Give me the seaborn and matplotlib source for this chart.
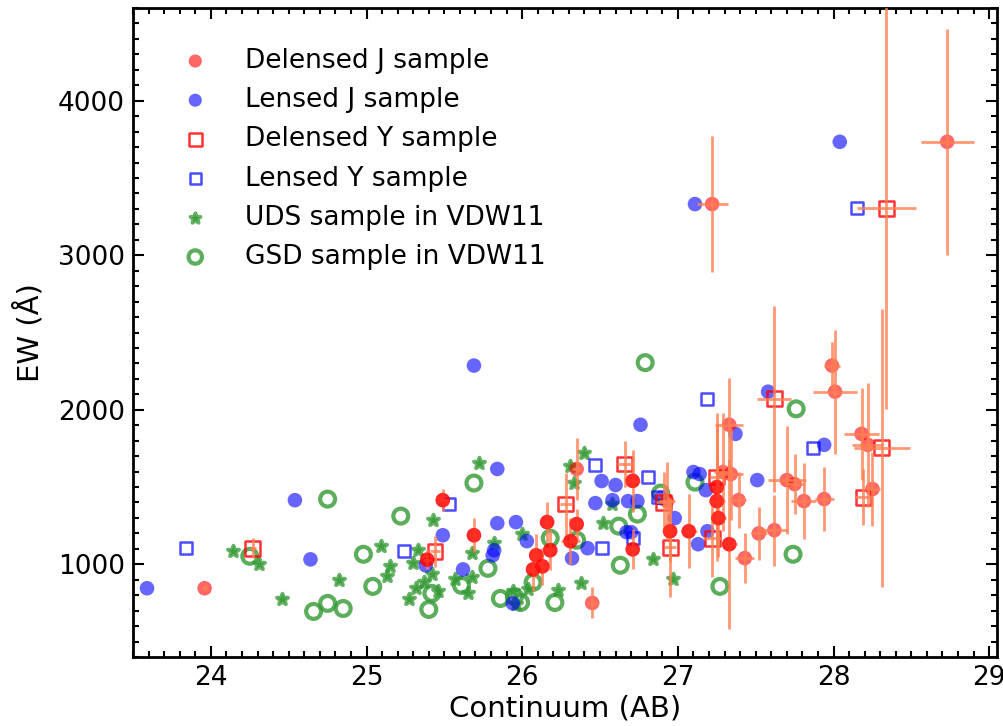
import matplotlib
matplotlib.use('Agg')
import numpy as np
import pandas as pd
import seaborn as sns
import matplotlib.pyplot as plt
from matplotlib.markers import MarkerStyle
from matplotlib.ticker import MultipleLocator

# delensed J sample (continuum mag, EW, errors)
dj_x = [23.96, 25.39, 25.49, 25.69, 26.07, 26.09, 26.13, 26.16, 26.18, 26.31,
        26.35, 26.35, 26.45, 26.71, 26.71, 26.93, 26.95, 27.07, 27.22, 27.25,
        27.25, 27.26, 27.29, 27.33, 27.33, 27.34, 27.39, 27.43, 27.52, 27.62,
        27.70, 27.75, 27.81, 27.94, 27.99, 28.01, 28.18, 28.22, 28.25, 28.73]
dj_y = [845, 1030, 1415, 1188, 967, 1058, 987, 1273, 1091, 1150,
        1260, 1617, 750, 1540, 1097, 1410, 1214, 1214, 3331, 1500,
        1409, 1299, 1597, 1903, 1130, 1584, 1415, 1040, 1200, 1221,
        1545, 1519, 1409, 1422, 2286, 2117, 1844, 1773, 1487, 3734]
dj_xerr = [0.02, 0.03, 0.03, 0.03, 0.04, 0.04, 0.03, 0.03, 0.03, 0.06,
           0.03, 0.03, 0.04, 0.05, 0.04, 0.05, 0.04, 0.05, 0.10, 0.04,
           0.05, 0.05, 0.06, 0.09, 0.05, 0.08, 0.05, 0.06, 0.05, 0.09,
           0.12, 0.06, 0.08, 0.06, 0.05, 0.14, 0.11, 0.10, 0.05, 0.17]
dj_yerr = [20, 60, 70, 110, 140, 140, 120, 130, 130, 150,
           100, 200, 100, 200, 130, 250, 200, 240, 440, 480,
           300, 250, 380, 300, 550, 300, 180, 160, 170, 230,
           350, 195, 245, 205, 150, 400, 300, 400, 240, 730]
# entries that appear twice in the catalogue (multiple images)
dj_repeat = [1, 2, 3, 4, 5, 6, 7, 8, 9, 10, 13, 14, 16, 17, 19, 20, 21, 24]

# lensed J sample
lj_x = [23.59, 24.54, 24.64, 25.38, 25.49, 25.62, 25.69, 25.81, 25.82, 25.84,
        25.84, 25.94, 25.96, 26.03, 26.32, 26.42, 26.47, 26.51, 26.58, 26.60,
        26.67, 26.70, 26.68, 26.74, 26.76, 26.89, 26.98, 27.10, 27.11, 27.14,
        27.13, 27.18, 27.19, 27.37, 27.51, 27.58, 27.94, 28.04]
lj_y = [845, 1415, 1032, 993, 1188, 967, 2286, 1058, 1091, 1617,
        1266, 747, 1273, 1150, 1039, 1104, 1396, 1539, 1415, 1513,
        1208, 1208, 1409, 1409, 1903, 1428, 1299, 1597, 3331, 1584,
        1130, 1480, 1214, 1844, 1545, 2117, 1773, 3734]

# delensed Y sample
dy_x = [24.27, 25.44, 26.28, 26.66, 26.91, 26.95, 27.22, 27.25, 27.62, 28.19, 28.31, 28.34]
dy_y = [1104, 1084, 1390, 1649, 1400, 1110, 1169, 1565, 2071, 1435, 1753, 3305]
dy_xerr = [0.02, 0.03, 0.04, 0.05, 0.05, 0.04, 0.06, 0.05, 0.11, 0.05, 0.18, 0.19]
dy_yerr = [65, 100, 200, 150, 200, 320, 250, 350, 600, 180, 900, 1300]

# lensed Y sample
ly_x = [23.84, 25.24, 25.53, 26.47, 26.51, 26.71, 26.81, 26.87, 27.19, 27.87, 28.15]
ly_y = [1104, 1084, 1390, 1643, 1104, 1169, 1565, 1435, 2071, 1753, 3305]

# VDW11 UDS sample
uds_x = [24.14, 24.31, 24.46, 24.82, 25.09, 25.13, 25.15, 25.27, 25.30, 25.32,
         25.33, 25.37, 25.42, 25.43, 25.46, 25.57, 25.65, 25.68, 25.68, 25.72,
         25.82, 25.94, 25.96, 26.00, 26.04, 26.23, 26.31, 26.33, 26.38, 26.40,
         26.52, 26.58, 26.84, 26.97]
uds_y = [1084, 1000, 773, 896, 1117, 922, 987, 773, 1006, 844,
         1091, 883, 935, 1286, 825, 903, 812, 916, 1071, 1656,
         1136, 830, 740, 1195, 840, 831, 1636, 1526, 877, 1721,
         1266, 1390, 1032, 903]

# VDW11 GSD sample
gsd_x = [24.25, 24.66, 24.75, 24.75, 24.85, 24.98, 25.04, 25.22, 25.40, 25.42,
         25.61, 25.69, 25.78, 25.86, 25.95, 25.99, 26.07, 26.18, 26.21, 26.35,
         26.62, 26.63, 26.74, 26.79, 26.89, 27.11, 27.27, 27.74, 27.76]
gsd_y = [1052, 695, 1422, 747, 714, 1065, 857, 1312, 708, 812,
         864, 1526, 974, 779, 790, 753, 883, 1169, 753, 1156,
         1247, 994, 1325, 2305, 1461, 1532, 857, 1065, 2006]

sns.set_style('ticks', {'xtick.direction': 'in', 'ytick.direction': 'in'})
plt.rcParams['font.family'] = ['DejaVu Sans']
for k in ['text.color', 'axes.labelcolor', 'xtick.color', 'ytick.color', 'axes.edgecolor']:
    plt.rcParams[k] = 'black'

fig = plt.figure(figsize=(10.04, 7.26), dpi=100)
ax = fig.add_axes([0.1325, 0.095, 0.8605, 0.894])

flower = MarkerStyle('*', joinstyle='round')
green = (0.2, 0.6, 0.2)

sns.scatterplot(x=gsd_x, y=gsd_y, marker='o', s=115, facecolor='none',
                edgecolor=green, linewidth=3, alpha=0.8, label='GSD sample in VDW11', ax=ax)
sns.scatterplot(x=uds_x, y=uds_y, marker=flower, s=70, color=green,
                edgecolor=green, linewidth=2.8, alpha=0.75, label='UDS sample in VDW11', ax=ax)
sns.scatterplot(x=lj_x, y=lj_y, marker='o', s=110, color='blue', edgecolor='none',
                alpha=0.6, label='Lensed J sample', ax=ax)
sns.scatterplot(x=ly_x, y=ly_y, marker='s', s=75, facecolor='none', edgecolor='blue',
                linewidth=1.8, alpha=0.7, label='Lensed Y sample', ax=ax)
sns.scatterplot(x=dj_x, y=dj_y, marker='o', s=110, color='red', edgecolor='none',
                alpha=0.6, label='Delensed J sample', ax=ax)
sns.scatterplot(x=dy_x, y=dy_y, marker='s', s=115, facecolor='none', edgecolor='red',
                linewidth=1.8, alpha=0.8, label='Delensed Y sample', ax=ax)

ax.errorbar(dj_x, dj_y, xerr=dj_xerr, yerr=dj_yerr, fmt='none', ecolor='coral',
            elinewidth=2, alpha=0.8, zorder=3)
ax.errorbar(dy_x, dy_y, xerr=dy_xerr, yerr=dy_yerr, fmt='none', ecolor='coral',
            elinewidth=2, alpha=0.8, zorder=3)

rep = pd.DataFrame({'x': dj_x, 'y': dj_y}).iloc[dj_repeat]
sns.scatterplot(data=rep, x='x', y='y', marker='o', s=110, color='red',
                edgecolor='none', alpha=0.6, zorder=4, ax=ax)

ax.set_xlim(23.5, 29.05)
ax.set_ylim(400, 4600)
ax.xaxis.set_major_locator(MultipleLocator(1))
ax.xaxis.set_minor_locator(MultipleLocator(0.1))
ax.yaxis.set_major_locator(MultipleLocator(1000))
ax.yaxis.set_minor_locator(MultipleLocator(100))
ax.tick_params(which='both', direction='in', top=True, right=True, width=1.5)
ax.tick_params(which='major', length=8, labelsize=19, pad=6)
ax.tick_params(which='minor', length=4)
for sp in ax.spines.values():
    sp.set_linewidth(2)
ax.set_xlabel('Continuum (AB)', fontsize=21, labelpad=2)
ax.set_ylabel('EW (Å)', fontsize=21)
ax.yaxis.set_label_coords(-0.103, 0.5)

handles, labels = ax.get_legend_handles_labels()
order = ['Delensed J sample', 'Lensed J sample', 'Delensed Y sample',
         'Lensed Y sample', 'UDS sample in VDW11', 'GSD sample in VDW11']
hmap = dict(zip(labels, handles))
ax.legend([hmap[l] for l in order], order, loc='upper left', bbox_to_anchor=(0.014, 0.975),
          frameon=False, fontsize=19, labelspacing=0.5, handletextpad=0.9, markerscale=0.9)

plt.savefig('out.png', dpi=100)
